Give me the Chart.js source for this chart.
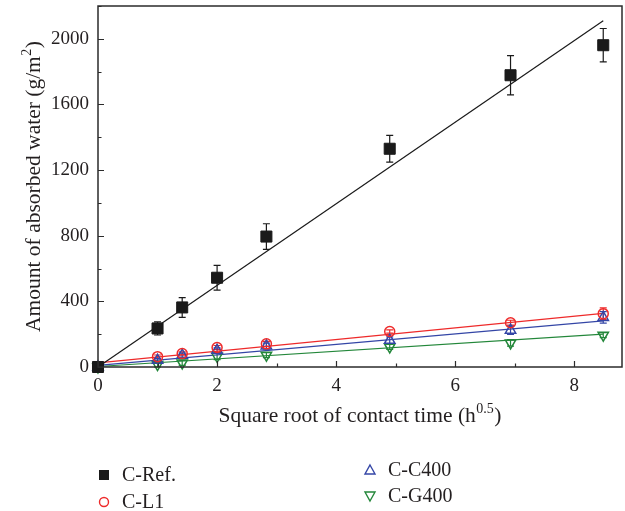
<!DOCTYPE html>
<html><head><meta charset="utf-8">
<script src="https://cdn.jsdelivr.net/npm/chart.js@4.4.1/dist/chart.umd.min.js"></script>
<style>html,body{margin:0;padding:0;background:#fff;}canvas{display:block;}</style>
</head><body>
<canvas id="c" width="625" height="511"></canvas>
<script>
// ---- data ----
const contactTime = [0, 1, 1.414, 2, 2.828, 4.899, 6.928, 8.485];   // sqrt(h)
const seriesNames = ['C-Ref.', 'C-L1', 'C-C400', 'C-G400'];
const refValues  = [0, 235, 363, 544, 795, 1330, 1778, 1961];
const refErrors  = [0, 40, 60, 75, 78, 81, 120, 102];
const l1Values   = [0, 63, 82, 119, 141, 216, 270, 325];
const l1Errors   = [0, 10, 10, 12, 15, 10, 15, 35];
const c400Values = [0, 41, 72, 102, 128, 163, 224, 302];
const c400Errors = [0, 10, 12, 15, 18, 20, 25, 35];
const g400Values = [0, 15, 25, 65, 72, 122, 147, 194];
const g400Errors = [0, 15, 15, 20, 15, 15, 20, 15];
// linear fits: values at the first and last contact time
const fitX    = [0, 8.485];
const refFit  = [0, 2110];
const l1Fit   = [25, 327];
const c400Fit = [10, 281];
const g400Fit = [3, 200];
const xTickLabels = [0, 2, 4, 6, 8];
const yTickLabels = [0, 400, 800, 1200, 1600, 2000];
const xTitle = ['Square root of contact time (h', '0.5', ')'];
const yTitle = ['Amount of absorbed water (g/m', '2', ')'];

const FONT = '"Liberation Serif", "DejaVu Serif", serif';
const TXT = '#231f20';
const colors = ['#1a1a1a', '#ee2a2a', '#3446a6', '#23873a'];

const pts = (vals) => contactTime.map((t, i) => ({x: t, y: vals[i]}));
const fit = (vals) => fitX.map((t, i) => ({x: t, y: vals[i]}));
const seriesVals = [refValues, l1Values, c400Values, g400Values];
const seriesErr = [refErrors, l1Errors, c400Errors, g400Errors];
const fits = [refFit, l1Fit, c400Fit, g400Fit];
const styles = [
  {pointStyle: 'rect', pointRadius: 7.8, backgroundColor: colors[0], borderColor: colors[0], pointBorderWidth: 1, rotation: 0},
  {pointStyle: 'circle', pointRadius: 5, backgroundColor: 'rgba(0,0,0,0)', borderColor: colors[1], pointBorderWidth: 1.5, rotation: 0},
  {pointStyle: 'triangle', pointRadius: 6, backgroundColor: 'rgba(0,0,0,0)', borderColor: colors[2], pointBorderWidth: 1.5, rotation: 0},
  {pointStyle: 'triangle', pointRadius: 6, backgroundColor: 'rgba(0,0,0,0)', borderColor: colors[3], pointBorderWidth: 1.5, rotation: 180}
];

const datasets = [];
seriesNames.forEach((name, i) => {
  const s = styles[i];
  datasets.push({
    label: name, data: pts(seriesVals[i]), showLine: false, clip: false,
    pointStyle: s.pointStyle, pointRadius: s.pointRadius, pointHoverRadius: s.pointRadius,
    pointBackgroundColor: s.backgroundColor, pointBorderColor: s.borderColor,
    pointBorderWidth: s.pointBorderWidth, pointRotation: s.rotation,
    errors: seriesErr[i], errColor: colors[i]
  });
});
seriesNames.forEach((name, i) => {
  datasets.push({
    label: name + ' fit', data: fit(fits[i]), showLine: true, pointRadius: 0,
    borderColor: colors[i], borderWidth: 1.2, fill: false, clip: false
  });
});

const errorBars = {
  id: 'errorBars',
  beforeDatasetsDraw(chart) {
    const {ctx, scales: {x, y}} = chart;
    ctx.save();
    chart.data.datasets.forEach(ds => {
      if (!ds.errors) return;
      ctx.strokeStyle = ds.errColor; ctx.lineWidth = 1.2;
      ds.data.forEach((p, i) => {
        const e = ds.errors[i]; if (!e) return;
        const px = x.getPixelForValue(p.x);
        const y1 = y.getPixelForValue(p.y + e), y2 = y.getPixelForValue(p.y - e);
        ctx.beginPath();
        ctx.moveTo(px, y1); ctx.lineTo(px, y2);
        ctx.moveTo(px - 3.5, y1); ctx.lineTo(px + 3.5, y1);
        ctx.moveTo(px - 3.5, y2); ctx.lineTo(px + 3.5, y2);
        ctx.stroke();
      });
    });
    ctx.restore();
  }
};

function drawSupText(ctx, parts, cx, cy, size) {
  const supSize = Math.round(size * 0.65);
  ctx.font = size + 'px ' + FONT;
  const w0 = ctx.measureText(parts[0]).width, w2 = ctx.measureText(parts[2]).width;
  ctx.font = supSize + 'px ' + FONT;
  const w1 = ctx.measureText(parts[1]).width;
  const total = w0 + w1 + w2 + 1;
  let xx = cx - total / 2;
  const base = cy + size * 0.33;
  ctx.textAlign = 'left'; ctx.textBaseline = 'alphabetic';
  ctx.font = size + 'px ' + FONT; ctx.fillText(parts[0], xx, base); xx += w0 + 0.5;
  ctx.font = supSize + 'px ' + FONT; ctx.fillText(parts[1], xx, base - size * 0.42); xx += w1 + 0.5;
  ctx.font = size + 'px ' + FONT; ctx.fillText(parts[2], xx, base);
}

const frame = {
  id: 'frame',
  afterDraw(chart) {
    const {ctx, chartArea: a, scales: {x, y}} = chart;
    ctx.save();
    ctx.strokeStyle = '#2b2b2b'; ctx.lineWidth = 1.5;
    ctx.strokeRect(a.left, a.top, a.right - a.left, a.bottom - a.top);
    ctx.lineWidth = 1.2;
    ctx.beginPath();
    y.ticks.forEach(t => {
      const py = Math.round(y.getPixelForValue(t.value)) + 0.5;
      const len = yTickLabels.includes(t.value) ? 6 : 3.5;
      ctx.moveTo(a.left, py); ctx.lineTo(a.left + len, py);
    });
    x.ticks.forEach(t => {
      const px = Math.round(x.getPixelForValue(t.value)) + 0.5;
      const len = xTickLabels.includes(t.value) ? 6 : 3.5;
      ctx.moveTo(px, a.bottom); ctx.lineTo(px, a.bottom - len);
    });
    ctx.stroke();
    // axis titles
    ctx.fillStyle = TXT;
    const cx = (a.left + a.right) / 2, cy = (a.top + a.bottom) / 2;
    drawSupText(ctx, xTitle, cx, 415, 21.5);
    ctx.save();
    ctx.translate(33, cy); ctx.rotate(-Math.PI / 2);
    drawSupText(ctx, yTitle, 0, 0, 21.5);
    ctx.restore();
    // legend (two columns)
    const legendPos = [[104, 475], [104, 502], [370, 470], [370, 496]];
    seriesNames.forEach((name, i) => {
      const [mx, my] = legendPos[i];
      ctx.fillStyle = colors[i]; ctx.strokeStyle = colors[i]; ctx.lineWidth = 1.4;
      ctx.beginPath();
      if (i === 0) { ctx.fillRect(mx - 5, my - 5, 10, 10); }
      else if (i === 1) { ctx.arc(mx, my, 4.5, 0, Math.PI * 2); ctx.stroke(); }
      else if (i === 2) { ctx.moveTo(mx, my - 5); ctx.lineTo(mx + 5, my + 4); ctx.lineTo(mx - 5, my + 4); ctx.closePath(); ctx.stroke(); }
      else { ctx.moveTo(mx, my + 5); ctx.lineTo(mx + 5, my - 4); ctx.lineTo(mx - 5, my - 4); ctx.closePath(); ctx.stroke(); }
      ctx.fillStyle = TXT; ctx.font = '20px ' + FONT;
      ctx.textAlign = 'left'; ctx.textBaseline = 'middle';
      ctx.fillText(name, mx + 18, my + 1);
    });
    ctx.restore();
  }
};

const zeroPad = s => { s.paddingTop = 0; s.paddingBottom = 0; s.paddingLeft = 0; s.paddingRight = 0; };

new Chart(document.getElementById('c'), {
  type: 'scatter',
  data: {datasets},
  options: {
    responsive: false, animation: false,
    layout: {autoPadding: false, padding: {top: 6, right: 3, left: 0, bottom: 0}},
    plugins: {legend: {display: false}, tooltip: {enabled: false}},
    scales: {
      x: {
        type: 'linear', min: 0, max: 8.8,
        grid: {display: false, drawTicks: false}, border: {display: false},
        afterFit: s => { s.height = 144; zeroPad(s); },
        ticks: {stepSize: 1, autoSkip: false, includeBounds: false, padding: 8, color: TXT,
          font: {family: FONT, size: 19},
          callback: v => xTickLabels.includes(v) ? String(v) : ''}
      },
      y: {
        type: 'linear', min: 0, max: 2200,
        grid: {display: false, drawTicks: false}, border: {display: false},
        afterFit: s => { s.width = 98; zeroPad(s); },
        ticks: {stepSize: 200, autoSkip: false, padding: 9, color: TXT,
          font: {family: FONT, size: 19},
          callback: v => yTickLabels.includes(v) ? String(v) : ''}
      }
    }
  },
  plugins: [errorBars, frame]
});
</script>
</body></html>
